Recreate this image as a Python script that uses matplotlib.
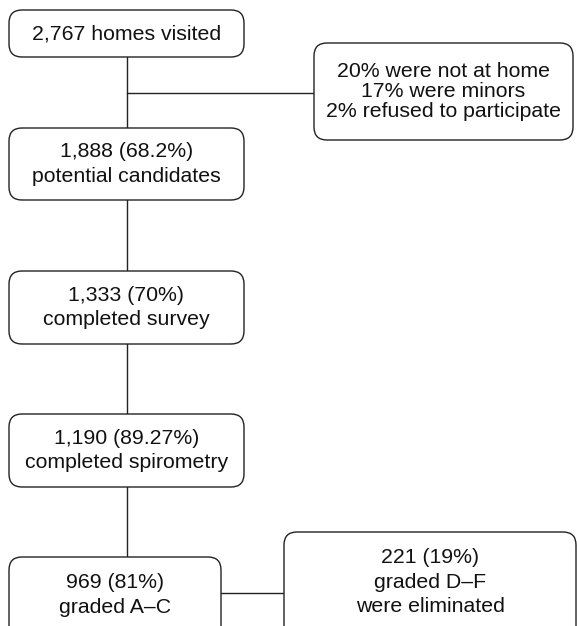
import matplotlib.pyplot as plt
from matplotlib.patches import FancyBboxPatch

plt.rcParams['font.family'] = ['Liberation Sans', 'DejaVu Sans']

# flow steps (main column) and side notes
main_labels = [
    "2,767 homes visited",
    "1,888 (68.2%)\npotential candidates",
    "1,333 (70%)\ncompleted survey",
    "1,190 (89.27%)\ncompleted spirometry",
    "969 (81%)\ngraded A\u2013C",
]
excluded_label = "20% were not at home\n17% were minors\n2% refused to participate"
eliminated_label = "221 (19%)\ngraded D\u2013F\nwere eliminated"

# box geometry in pixels: (x0, y0, x1, y1)
main_boxes = [
    (9, 10, 244, 57),
    (9, 128, 244, 200),
    (9, 271, 244, 344),
    (9, 414, 244, 487),
    (9, 557, 221, 640),
]
excluded_box = (314, 43, 573, 140)
eliminated_box = (284, 532, 576, 640)

W, H = 577, 626
fig = plt.figure(figsize=(W / 100, H / 100), dpi=100)
ax = fig.add_axes([0, 0, 1, 1])
ax.set_xlim(0, W)
ax.set_ylim(H, 0)
ax.axis('off')

LC = '#222222'
FS = 15.3


def draw_box(b, text, text_y=None, ls=1.36):
    x0, y0, x1, y1 = b
    r = 13
    p = FancyBboxPatch((x0 + r, y0 + r), (x1 - x0) - 2 * r, (y1 - y0) - 2 * r,
                       boxstyle=f"round,pad={r},rounding_size={r}",
                       fc='white', ec=LC, lw=1.0, zorder=2)
    ax.add_patch(p)
    if text_y is None:
        text_y = (y0 + y1) / 2
    ax.text((x0 + x1) / 2, text_y, text, ha='center', va='center',
            fontsize=FS, linespacing=ls, color='#111111', zorder=3)


cx = 127
# vertical connectors
for a, b in zip(main_boxes[:-1], main_boxes[1:]):
    ax.plot([cx, cx], [a[3], b[1]], color=LC, lw=1.0, zorder=1)
# branch to excluded
ax.plot([cx, excluded_box[0]], [93, 93], color=LC, lw=1.0, zorder=1)
# branch to eliminated
ax.plot([main_boxes[-1][2], eliminated_box[0]], [593, 593], color=LC, lw=1.0, zorder=1)

for i, (b, t) in enumerate(zip(main_boxes, main_labels)):
    if i == len(main_boxes) - 1:
        draw_box(b, t, text_y=595)
    else:
        draw_box(b, t)
draw_box(excluded_box, excluded_label, ls=1.04)
draw_box(eliminated_box, eliminated_label, text_y=582)

fig.savefig('out.png', dpi=100)
